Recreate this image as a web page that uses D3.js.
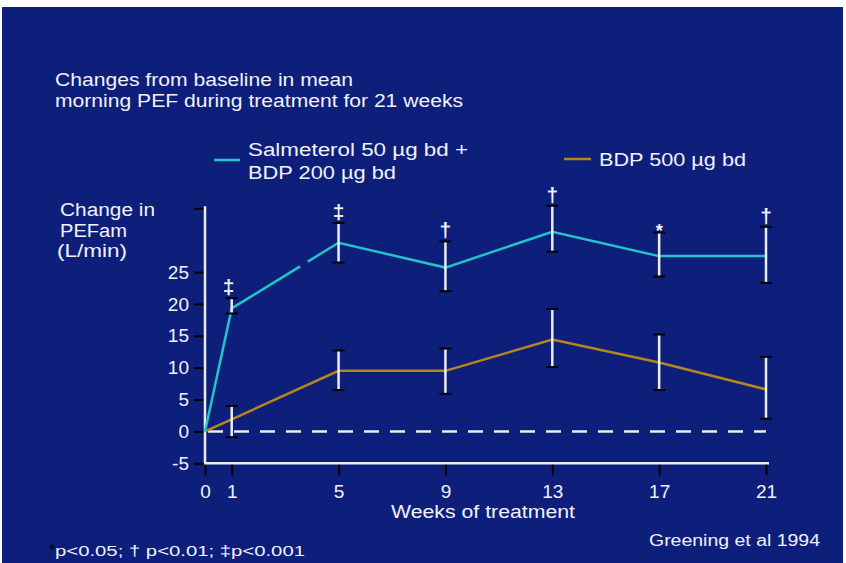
<!DOCTYPE html>
<html>
<head>
<meta charset="utf-8">
<script src="https://cdn.jsdelivr.net/npm/d3@7"></script>
<style>
  html, body { margin: 0; padding: 0; background: #ffffff; }
  svg text { font-family: "Liberation Sans", Arial, sans-serif; fill: #f2f2f8; }
</style>
</head>
<body>
<div id="chart"></div>
<script>

// weeks of treatment
var weeks = [0, 1, 5, 9, 13, 17, 21];

// Salmeterol 50 ug bd + BDP 200 ug bd
var salm_mean = [0, 19.3, 29.6, 25.7, 31.3, 27.5, 27.5];
var salm_hi   = [null, 20.9, 32.7, 29.8, 35.4, 31.2, 32.1];
var salm_lo   = [null, 18.5, 26.5, 22.0, 28.2, 24.3, 23.3];
var salm_sig  = ["", "\u2021", "\u2021", "\u2020", "\u2020", "*", "\u2020"];

// BDP 500 ug bd
var bdp_mean = [0, 1.9, 9.5, 9.5, 14.4, 10.8, 6.6];
var bdp_hi   = [null, 4.0, 12.7, 13.0, 19.2, 15.2, 11.7];
var bdp_lo   = [null, -0.9, 6.5, 5.9, 10.1, 6.5, 2.0];

var y_ticks = [-5, 0, 5, 10, 15, 20, 25, 35];
var y_labels = ["-5", "0", "5", "10", "15", "20", "25", ""];
var x_ticks = [0, 1, 5, 9, 13, 17, 21];


var width = 846, height = 563;
var bg = "#0e1f7b";
var cyan = "#22c4c6", brown = "#b5861c", white = "#ececf4";

var svg = d3.select("#chart")
    .append("svg")
    .attr("width", width)
    .attr("height", height);

// blue slide background (white strip along top / edges)
svg.append("rect")
    .attr("x", 2).attr("y", 7)
    .attr("width", 841).attr("height", 556)
    .attr("fill", bg);

var x = d3.scaleLinear().domain([0, 21]).range([205, 766]);
var y = d3.scaleLinear().domain([-5, 35]).range([463.3, 208.3]);

/* axes */
var yAxis = d3.axisLeft(y)
    .tickValues(y_ticks)
    .tickSize(11)
    .tickPadding(5)
    .tickFormat(function(d, i) { return y_labels[i]; });

var gy = svg.append("g")
    .attr("transform", "translate(" + x(0) + ",0)")
    .call(yAxis);

var xAxis = d3.axisBottom(x)
    .tickValues(x_ticks)
    .tickSize(12)
    .tickPadding(9)
    .tickFormat(d3.format("d"));

var gx = svg.append("g")
    .attr("transform", "translate(0," + y(-5) + ")")
    .call(xAxis);

// restyle both axes: white line, black ticks
[gy, gx].forEach(function(g) {
    g.select(".domain").remove();
    g.selectAll(".tick line").attr("stroke", "#000").attr("stroke-width", 2);
    g.selectAll(".tick text")
        .attr("font-size", 19)
        .attr("fill", white);
});
gx.selectAll(".tick text").attr("dy", "0.71em");

svg.append("line")
    .attr("x1", x(0)).attr("x2", x(0))
    .attr("y1", y(35) - 2).attr("y2", y(-5))
    .attr("stroke", white).attr("stroke-width", 2.5);

svg.append("line")
    .attr("x1", x(0) - 1).attr("x2", x(21) + 3)
    .attr("y1", y(-5)).attr("y2", y(-5))
    .attr("stroke", white).attr("stroke-width", 2.5);

// dashed zero line
svg.append("line")
    .attr("x1", x(0) + 3).attr("x2", x(21))
    .attr("y1", y(0)).attr("y2", y(0))
    .attr("stroke", white).attr("stroke-width", 2.5)
    .attr("stroke-dasharray", "15,11");

/* series lines */
var line = d3.line()
    .x(function(d, i) { return x(weeks[i]); })
    .y(function(d) { return y(d); });

svg.append("path")
    .datum(bdp_mean)
    .attr("d", line)
    .attr("fill", "none")
    .attr("stroke", brown)
    .attr("stroke-width", 2.5);

var salm_path = svg.append("path")
    .datum(salm_mean)
    .attr("d", line)
    .attr("fill", "none")
    .attr("stroke", cyan)
    .attr("stroke-width", 2.5);

// small break in the cyan line between week 1 and week 5
var seg1 = Math.hypot(x(1) - x(0), y(salm_mean[1]) - y(salm_mean[0]));
var seg2 = Math.hypot(x(5) - x(1), y(salm_mean[2]) - y(salm_mean[1]));
var total = salm_path.node().getTotalLength();
salm_path.attr("stroke-dasharray", (seg1 + seg2 * 0.64) + "," + 9 + "," + total);

/* error bars: white stem, black caps */
function draw_errbars(hi, lo) {
    var idx = d3.range(weeks.length).filter(function(i) { return hi[i] !== null; });
    var g = svg.append("g");
    g.selectAll(".stem")
        .data(idx).enter()
        .append("line")
        .attr("x1", function(i) { return x(weeks[i]); })
        .attr("x2", function(i) { return x(weeks[i]); })
        .attr("y1", function(i) { return y(hi[i]); })
        .attr("y2", function(i) { return y(lo[i]); })
        .attr("stroke", white).attr("stroke-width", 2.5);
    [hi, lo].forEach(function(arr) {
        g.selectAll(null)
            .data(idx).enter()
            .append("line")
            .attr("x1", function(i) { return x(weeks[i]) - 6; })
            .attr("x2", function(i) { return x(weeks[i]) + 6; })
            .attr("y1", function(i) { return y(arr[i]); })
            .attr("y2", function(i) { return y(arr[i]); })
            .attr("stroke", "#000").attr("stroke-width", 2);
    });
}
draw_errbars(salm_hi, salm_lo);
draw_errbars(bdp_hi, bdp_lo);

// significance markers above salmeterol bars
svg.selectAll(".sig")
    .data(d3.range(weeks.length).filter(function(i) { return salm_sig[i] !== ""; }))
    .enter()
    .append("text")
    .attr("class", "sig")
    .attr("x", function(i) { return x(weeks[i]) - (weeks[i] == 1 ? 3 : 0); })
    .attr("y", function(i) { return y(salm_hi[i]) + (salm_sig[i] == "*" ? 4 : -4); })
    .attr("text-anchor", "middle")
    .attr("font-size", function(i) { return salm_sig[i] == "*" ? 18 : 21; })
    .attr("font-weight", "bold")
    .text(function(i) { return salm_sig[i]; });

/* texts */
function add_text(str, xx, yy, size, len, anchor) {
    var t = svg.append("text")
        .attr("x", xx).attr("y", yy)
        .attr("font-size", size)
        .attr("text-anchor", anchor || "start")
        .text(str);
    if (len) t.attr("textLength", len).attr("lengthAdjust", "spacingAndGlyphs");
    return t;
}

add_text("Changes from baseline in mean", 55, 86, 18, 298);
add_text("morning  PEF during treatment for 21 weeks", 55, 107, 18, 408);

// legend
svg.append("line")
    .attr("x1", 214).attr("x2", 240).attr("y1", 160).attr("y2", 160)
    .attr("stroke", cyan).attr("stroke-width", 2.5);
add_text("Salmeterol  50 \u00b5g bd +", 248, 156, 18, 220);
add_text("BDP 200 \u00b5g bd", 248, 179, 18, 148);

svg.append("line")
    .attr("x1", 564).attr("x2", 591).attr("y1", 159).attr("y2", 159)
    .attr("stroke", brown).attr("stroke-width", 2.5);
add_text("BDP 500 \u00b5g bd", 599, 166, 18, 147);

// y axis title
add_text("Change in", 60, 216, 18, 95);
add_text("PEFam", 60, 237, 18, 67);
add_text("(L/min)", 57, 257, 18, 70);

// x axis title
add_text("Weeks of treatment", 483, 518, 18, 184, "middle");

// footnotes
add_text("Greening et al 1994", 820, 546, 16, 171, "end");
var foot = svg.append("text")
    .attr("x", 49).attr("y", 556)
    .attr("font-size", 15);
foot.append("tspan").text("*").style("fill", "#000").attr("font-size", 16);
foot.append("tspan").attr("x", 55).text("p<0.05; \u2020 p<0.01; \u2021p<0.001")
    .attr("textLength", 250).attr("lengthAdjust", "spacingAndGlyphs");

</script>
</body>
</html>
